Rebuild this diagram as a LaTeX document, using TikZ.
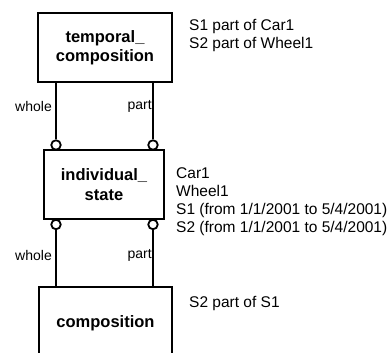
\documentclass[tikz,border=0pt]{standalone}
\usepackage{fontspec}
\setmainfont{Liberation Sans}
\begin{document}
\begin{tikzpicture}[
  x=1pt,
  y=-1pt,
  entity/.style={draw, line width=2.4pt, align=center, inner sep=0pt,
    font=\fontsize{16.5}{19.5}\selectfont\bfseries},
  endring/.style={circle, draw, fill=white, line width=1.8pt, inner sep=0pt, minimum size=9.5},
  wholeline/.style={line width=2.6pt},
  partline/.style={line width=2pt},
  role/.style={inner sep=0pt, font=\fontsize{14}{16}\selectfont},
  note/.style={inner sep=0pt, align=left, font=\fontsize{15.5}{18}\selectfont}
]
\useasboundingbox (0,0) rectangle (389,353);

% entity types
\node[entity, minimum width=134, minimum height=69] (tc) at (105,47.5) {temporal\_\\composition};
\node[entity, minimum width=120, minimum height=69] (is) at (104,184.5) {individual\_\\state};
\node[entity, minimum width=133, minimum height=72] (comp) at (105.5,323) {composition};

% relationship ends
\node[endring] (tw) at (56,145) {};
\node[endring] (tp) at (153,145) {};
\node[endring] (bw) at (56,224.5) {};
\node[endring] (bp) at (153,224.5) {};

\draw[wholeline] (tw) -- (tw |- tc.south);
\draw[partline] (tp) -- (tp |- tc.south);
\draw[wholeline] (bw) -- (bw |- comp.north);
\draw[partline] (bp) -- (bp |- comp.north);

\node[role, anchor=east] (twl) at (52,106) {whole};
\node[role, anchor=east] (tpl) at (152,106) {part};
\node[role, anchor=east] (bwl) at (52,255) {whole};
\node[role, anchor=east] (bpl) at (152,255) {part};

% instances
\node[note, anchor=west] (tcn) at (189,36) {S1 part of Car1\\S2 part of Wheel1};
\node[note, anchor=west] (isn) at (176,202) {Car1\\Wheel1\\S1 (from 1/1/2001 to 5/4/2001)\\S2 (from 1/1/2001 to 5/4/2001)};
\node[note, anchor=west] (compn) at (189,303) {S2 part of S1};
\end{tikzpicture}
\end{document}
